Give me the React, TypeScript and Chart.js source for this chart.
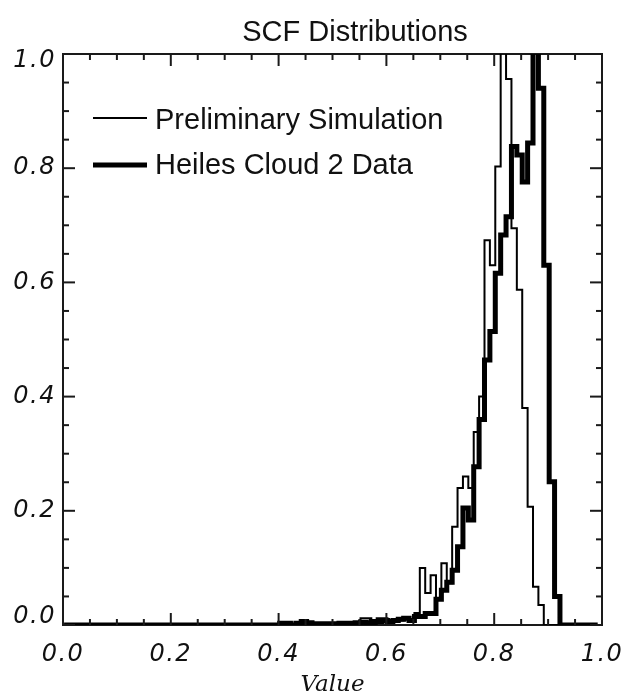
import React, { useEffect, useRef } from 'react';
import { Chart, registerables } from 'chart.js';

Chart.register(...registerables);

const TITLE = 'SCF Distributions';
const X_TITLE = 'Value';
const SERIES_NAMES = ['Preliminary Simulation', 'Heiles Cloud 2 Data'];

// histogram bins (left edges = BIN_START + i * BIN_WIDTH)
const BIN_START = 0.002;
const BIN_WIDTH = 0.01;

// Preliminary Simulation (thin line), bins 0.00 .. 0.99
const simulationValues = [
  0, 0, 0, 0, 0, 0, 0, 0, 0, 0,
  0, 0, 0, 0, 0, 0, 0, 0, 0, 0,
  0, 0, 0, 0, 0, 0, 0, 0, 0, 0,
  0, 0, 0, 0, 0, 0, 0, 0, 0, 0,
  0, 0, 0, 0, 0, 0, 0, 0, 0, 0,
  0, 0, 0, 0, 0, 0.012, 0.012, 0.0, 0.012, 0.012,
  0.006, 0.008, 0.008, 0.012, 0.008, 0.021, 0.1, 0.056, 0.087, 0.044,
  0.108, 0.073, 0.172, 0.24, 0.26, 0.24, 0.338, 0.4, 0.674, 0.63,
  0.803, 1.2, 0.956, 0.695, 0.587, 0.38, 0.207, 0.067, 0.035, 0,
  0, 0, 0, 0, 0, 0, 0, 0, 0, 0,
];

// Heiles Cloud 2 Data (thick line), bins 0.00 .. 0.98
const heilesValues = [
  0, 0, 0, 0, 0, 0, 0, 0, 0, 0,
  0, 0, 0, 0, 0, 0, 0, 0, 0, 0,
  0, 0, 0, 0, 0, 0, 0, 0, 0, 0,
  0, 0, 0, 0, 0, 0, 0, 0, 0, 0,
  0.003, 0.003, 0, 0.003, 0.006, 0.004, 0.002, 0.002, 0.002, 0.002,
  0.002, 0.003, 0.003, 0.003, 0.004, 0.005, 0.004, 0.006, 0.006, 0.008,
  0.006, 0.008, 0.01, 0.012, 0.008, 0.015, 0.015, 0.02, 0.02, 0.045,
  0.061, 0.075, 0.096, 0.137, 0.205, 0.184, 0.277, 0.36, 0.464, 0.514,
  0.616, 0.683, 0.715, 0.838, 0.823, 0.776, 0.844, 1.2, 0.94, 0.63,
  0.251, 0.05, 0, 0, 0, 0, 0, 0, 0,
];

const X_TICKS = [0, 0.2, 0.4, 0.6, 0.8, 1.0];
const X_TICK_LABELS = ['0.0', '0.2', '0.4', '0.6', '0.8', '1.0'];
const Y_TICKS = [0, 0.2, 0.4, 0.6, 0.8, 1.0];
const Y_TICK_LABELS = ['0.0', '0.2', '0.4', '0.6', '0.8', '1.0'];
const MINOR_STEP = 0.05;

function toSteps(values: number[]) {
  const pts = values.map((v, i) => ({ x: BIN_START + i * BIN_WIDTH, y: v }));
  pts.push({ x: BIN_START + values.length * BIN_WIDTH, y: values[values.length - 1] });
  return pts;
}

const LABEL_FONT = 'italic 300 24px "DejaVu Sans"';

const framePlugin = {
  id: 'idlFrame',
  beforeDatasetsDraw(chart: any) {
    const { ctx, chartArea: a } = chart;
    ctx.save();
    ctx.strokeStyle = '#1a1a1a';
    ctx.lineWidth = 2;
    ctx.strokeRect(a.left, a.top, a.right - a.left, a.bottom - a.top);
    ctx.restore();
  },
  afterDatasetsDraw(chart: any) {
    const { ctx, chartArea: a, scales } = chart;
    const xs = scales.x;
    const ys = scales.y;
    ctx.save();
    ctx.strokeStyle = '#1a1a1a';
    ctx.lineWidth = 2;
    const line = (x1: number, y1: number, x2: number, y2: number) => {
      ctx.beginPath();
      ctx.moveTo(x1, y1);
      ctx.lineTo(x2, y2);
      ctx.stroke();
    };
    const nMinor = Math.round(1 / MINOR_STEP);
    for (let k = 0; k <= nMinor; k++) {
      const v = k * MINOR_STEP;
      const major = k % 4 === 0;
      const len = major ? 12 : 6;
      const px = xs.getPixelForValue(v);
      line(px, a.bottom, px, a.bottom - len);
      line(px, a.top, px, a.top + len);
      const py = ys.getPixelForValue(v);
      line(a.left, py, a.left + len, py);
      line(a.right, py, a.right - len, py);
    }

    // tick labels
    ctx.fillStyle = '#111';
    ctx.font = LABEL_FONT;
    (ctx as any).letterSpacing = '1.5px';
    ctx.textBaseline = 'middle';
    ctx.textAlign = 'right';
    Y_TICKS.forEach((v, i) => {
      const py = ys.getPixelForValue(v);
      const y = Math.min(Math.max(py, a.top + 7), a.bottom - 8);
      ctx.fillText(Y_TICK_LABELS[i], a.left - 7, y);
    });
    ctx.textAlign = 'center';
    X_TICKS.forEach((v, i) => {
      const px = xs.getPixelForValue(v);
      ctx.fillText(X_TICK_LABELS[i], px, a.bottom + 30);
    });
    (ctx as any).letterSpacing = '0px';

    // axis title
    ctx.font = 'italic 23px "DejaVu Serif"';
    ctx.fillText(X_TITLE, (a.left + a.right) / 2, a.bottom + 60);

    // title
    ctx.font = '29px "Liberation Sans"';
    ctx.fillText(TITLE, 355, 33);

    // legend
    ctx.textAlign = 'left';
    ctx.font = '29px "Liberation Sans"';
    ctx.strokeStyle = '#000';
    const lx0 = a.left + 30;
    const lx1 = a.left + 84;
    ctx.lineWidth = 2;
    line(lx0, a.top + 64, lx1, a.top + 64);
    ctx.fillText(SERIES_NAMES[0], a.left + 92, a.top + 67);
    ctx.lineWidth = 5;
    line(lx0, a.top + 111, lx1, a.top + 111);
    ctx.fillText(SERIES_NAMES[1], a.left + 92, a.top + 112);
    ctx.restore();
  },
};

export default function App() {
  const canvasRef = useRef<HTMLCanvasElement | null>(null);

  useEffect(() => {
    const canvas = canvasRef.current;
    if (!canvas) return;
    const chart = new Chart(canvas, {
      type: 'line',
      data: {
        datasets: [
          {
            label: SERIES_NAMES[0],
            data: toSteps(simulationValues),
            borderColor: '#000',
            borderWidth: 2,
            pointRadius: 0,
            stepped: 'before',
            fill: false,
            order: 2,
            borderJoinStyle: 'miter',
          },
          {
            label: SERIES_NAMES[1],
            data: toSteps(heilesValues),
            borderColor: '#000',
            borderWidth: 5,
            pointRadius: 0,
            stepped: 'before',
            fill: false,
            order: 1,
            borderJoinStyle: 'miter',
          },
        ],
      },
      options: {
        responsive: false,
        animation: false,
        devicePixelRatio: 1,
        layout: { padding: { top: 54, left: 63, right: 27, bottom: 73 } },
        plugins: {
          legend: { display: false },
          title: { display: false },
          tooltip: { enabled: false },
        },
        scales: {
          x: { type: 'linear', min: 0, max: 1, display: false },
          y: { type: 'linear', min: 0, max: 1, display: false },
        },
      },
      plugins: [framePlugin],
    });
    return () => chart.destroy();
  }, []);

  return (
    <div style={{ position: 'absolute', left: 0, top: 0, width: 629, height: 698, background: '#fff' }}>
      <canvas ref={canvasRef} width={629} height={698} />
    </div>
  );
}
